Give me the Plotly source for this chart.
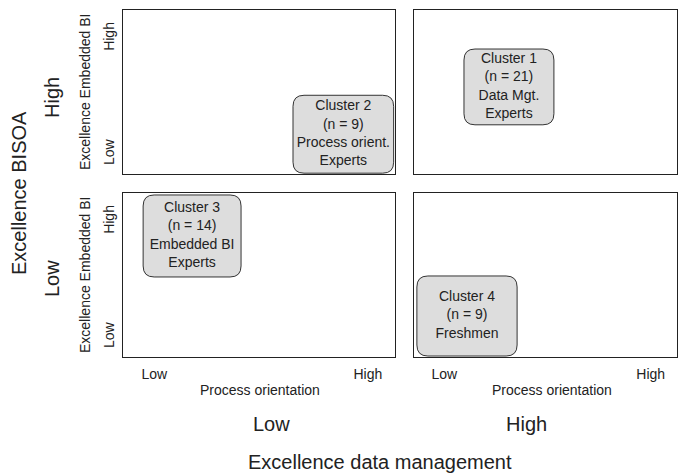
import plotly.graph_objects as go

W, H = 678, 473
FONT = "Liberation Sans, Arial, Helvetica, sans-serif"
INK = "#222222"

# ---- data ----
level_labels = ["Low", "High"]
po_tickvals = [0.115, 0.9]      # process orientation tick positions
ebi_tickvals = [0.12, 0.826]    # excellence embedded BI tick positions

cluster_names = ["Cluster 1", "Cluster 2", "Cluster 3", "Cluster 4"]
cluster_n = [21, 9, 14, 9]
cluster_desc = [["Data Mgt.", "Experts"], ["Process orient.", "Experts"],
                ["Embedded BI", "Experts"], ["Freshmen"]]
cluster_dm = ["High", "Low", "Low", "High"]        # excellence data management
cluster_bisoa = ["High", "High", "Low", "Low"]     # excellence BISOA
cluster_po_range = [[0.19, 0.532], [0.625, 0.995], [0.074, 0.434], [0.011, 0.392]]
cluster_ebi_range = [[0.30, 0.762], [0.005, 0.48], [0.488, 0.988], [0.006, 0.494]]

# ---- layout geometry ----
col_dom = {"Low": [123 / W, 395 / W], "High": [414 / W, 677 / W]}
row_dom = {"High": [1 - 174 / H, 1 - 10 / H], "Low": [1 - 357 / H, 1 - 193 / H]}
panel_suffix = {("Low", "High"): "", ("High", "High"): "2",
                ("Low", "Low"): "3", ("High", "Low"): "4"}

fig = go.Figure()
layout_axes = {}
for (dm, bis), s in panel_suffix.items():
    xa = dict(domain=col_dom[dm], range=[0, 1], anchor="y" + s,
              showgrid=False, zeroline=False, showline=True, mirror=True,
              linecolor=INK, linewidth=1.2, tickvals=po_tickvals,
              ticktext=level_labels, ticks="outside", ticklen=4,
              tickcolor="rgba(0,0,0,0)", fixedrange=True,
              showticklabels=(bis == "Low"),
              tickfont=dict(size=14, color=INK, family=FONT))
    ya = dict(domain=row_dom[bis], range=[0, 1], anchor="x" + s,
              showgrid=False, zeroline=False, showline=True, mirror=True,
              linecolor=INK, linewidth=1.2, tickvals=ebi_tickvals,
              ticktext=level_labels, tickangle=-90, ticks="outside", ticklen=2,
              tickcolor="rgba(0,0,0,0)", fixedrange=True,
              showticklabels=(dm == "Low"),
              tickfont=dict(size=14, color=INK, family=FONT))
    layout_axes["xaxis" + s] = xa
    layout_axes["yaxis" + s] = ya

shapes = []
for i, name in enumerate(cluster_names):
    s = panel_suffix[(cluster_dm[i], cluster_bisoa[i])]
    x0, x1 = cluster_po_range[i]
    y0, y1 = cluster_ebi_range[i]
    pw = (col_dom[cluster_dm[i]][1] - col_dom[cluster_dm[i]][0]) * W
    ph = (row_dom[cluster_bisoa[i]][1] - row_dom[cluster_bisoa[i]][0]) * H
    rx, ry = 11 / pw, 11 / ph
    path = (f"M {x0+rx},{y0} L {x1-rx},{y0} Q {x1},{y0} {x1},{y0+ry} "
            f"L {x1},{y1-ry} Q {x1},{y1} {x1-rx},{y1} L {x0+rx},{y1} "
            f"Q {x0},{y1} {x0},{y1-ry} L {x0},{y0+ry} Q {x0},{y0} {x0+rx},{y0} Z")
    shapes.append(dict(type="path", path=path, xref="x" + s, yref="y" + s,
                       fillcolor="#dddddd", line=dict(color="#333333", width=1),
                       layer="below"))
    label = "<br>".join([name, f"(n = {cluster_n[i]})"] + cluster_desc[i])
    fig.add_trace(go.Scatter(
        x=[(x0 + x1) / 2], y=[(y0 + y1) / 2], mode="text", text=[label],
        textposition="middle center", hoverinfo="skip",
        textfont=dict(size=14, color=INK, family=FONT),
        xaxis="x" + s, yaxis="y" + s, showlegend=False))

ann = []
def add(text, x, y, size, angle=0):
    ann.append(dict(text=text, x=x / W, y=1 - y / H, xref="paper", yref="paper",
                    showarrow=False, textangle=angle, xanchor="center",
                    yanchor="middle", font=dict(size=size, color=INK, family=FONT)))

# process orientation titles
add("Process orientation", 260, 390, 14)
add("Process orientation", 552, 390, 14)
# embedded BI titles
add("Excellence Embedded BI", 85, 92, 14, -90)
add("Excellence Embedded BI", 85, 275, 14, -90)
# outer levels
add("High", 52, 98, 20, -90)
add("Low", 52, 279, 20, -90)
add("Excellence BISOA", 19, 193, 20, -90)
add("Low", 271, 424, 20)
add("High", 526, 424, 20)
add("Excellence data management", 380, 462, 20)

fig.update_layout(width=W, height=H, margin=dict(l=0, r=0, t=0, b=0),
                  paper_bgcolor="white", plot_bgcolor="white",
                  shapes=shapes, annotations=ann, showlegend=False,
                  **layout_axes)
fig.write_html("out.html", config={"displayModeBar": False},
               post_script="document.body.style.margin='0';"
                           "document.body.style.overflow='hidden';")
